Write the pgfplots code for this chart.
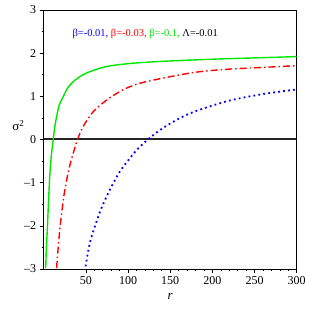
\documentclass[border=0pt]{standalone}
\usepackage{fontspec}
\setmainfont{Liberation Serif}
\usepackage{pgfplots}
\pgfplotsset{compat=1.18}
\definecolor{mygreen}{RGB}{0,230,0}
\begin{document}
\begin{tikzpicture}
\begin{axis}[
  scale only axis,
  width=253pt, height=259pt,
  xmin=0, xmax=300, ymin=-3, ymax=3,
  xtick={50,100,150,200,250,300},
  ytick={-3,-2,-1,0,1,2,3},
  yticklabels={–3,–2,–1,0,1,2,3},
  minor x tick num=4, minor y tick num=1,
  xtick pos=bottom, ytick pos=left,
  tick align=outside,
  major tick length=4pt, minor tick length=2pt,
  tick style={black, line width=0.5pt},
  axis line style={black, line width=0.8pt},
  /pgf/number format/assume math mode=true,
  ticklabel style={font=\fontsize{12}{14}\selectfont},
  xlabel={\textit{r}},
  xlabel style={font=\fontsize{13}{15}\selectfont, at={(axis description cs:0.5,0)}, anchor=center, yshift=-27pt},
  ylabel={σ\textsuperscript{2}},
  ylabel style={rotate=-90, font=\fontsize{13}{15}\selectfont, at={(axis description cs:-0.10,0.553)}, anchor=center},
  clip=true,
]
\addplot[black!85, line width=2pt] coordinates {(0,0) (300,0)};
\addplot[mygreen, line width=1.4pt, smooth, tension=0.5] coordinates {
(2.4,-2.98) (3.2,-2.5) (4.3,-2.09) (5.8,-1.4) (7.4,-0.78) (9.2,-0.35) (11.3,0) (13.2,0.3) (15.3,0.53) (18.5,0.8) (23.1,0.99) (28,1.18) (35,1.34) (44,1.47) (54.7,1.57) (74.4,1.69) (102,1.76) (140,1.81) (200,1.86) (250,1.89) (300,1.92)};
\addplot[red, line width=1.4pt, dash pattern=on 7pt off 3pt on 1.5pt off 3pt, smooth, tension=0.5] coordinates {
(15.3,-2.98) (17.3,-2.48) (19.2,-2.07) (21.3,-1.71) (24,-1.3) (27.2,-0.94) (31,-0.6) (35,-0.32) (40.1,0) (46.8,0.30) (58.6,0.64) (74.4,0.91) (94,1.15) (113.7,1.30) (141,1.42) (180.7,1.56) (220,1.63) (260,1.67) (300,1.71)};
\addplot[blue, line width=1.8pt, dash pattern=on 1.8pt off 3.2pt, smooth, tension=0.5] coordinates {
(49.6,-2.94) (54.7,-2.40) (60.6,-2.02) (68.5,-1.59) (78.3,-1.17) (90.1,-0.75) (102,-0.44) (110.5,-0.24) (123.5,0) (141,0.26) (161,0.49) (180.7,0.66) (220,0.90) (259.4,1.05) (300,1.16)};
\node[anchor=west, font=\fontsize{10.5}{12}\selectfont, inner sep=0pt] at (axis cs:34,2.45) {\textcolor{blue}{β=-0.01,} \textcolor{red}{β=-0.03,} \textcolor{mygreen}{β=-0.1,} Λ=-0.01};
\end{axis}
\path (current axis.south west) ++(-43.7pt,-39.7pt) (current axis.north east) ++(12pt,10pt);
\end{tikzpicture}
\end{document}
